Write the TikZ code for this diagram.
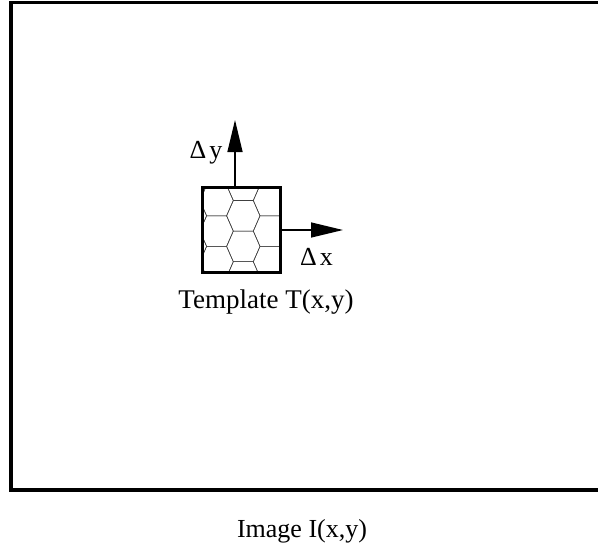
\documentclass[tikz,border=0pt]{standalone}
\usepackage{fontspec}
\setmainfont{Liberation Serif}
\usetikzlibrary{arrows.meta}

\tikzset{
  frame/.style={draw=black, line width=3.2pt},
  tplbox/.style={draw=black, line width=3pt},
  hexline/.style={draw=black!75, line width=0.55pt},
  shiftarrow/.style={draw=black, line width=1.4pt, -{Triangle[length=32pt,width=15pt]}},
  lbl/.style={font=\fontsize{26}{30}\selectfont, inner sep=0pt, anchor=base}
}

\begin{document}
\begin{tikzpicture}[x=1pt, y=-1pt]
  \useasboundingbox (0,0) rectangle (598,550);
  \clip (0,0) rectangle (598,550);

  % the image frame (its right side runs past the edge)
  \draw[frame] (11,2.5) rectangle (620,490);

  % template patch filled with a hexagonal texture
  \coordinate (tl) at (202,187);
  \coordinate (br) at (280,272);
  \begin{scope}
    \clip (tl) rectangle (br);
    \foreach \col in {-3,...,3} {
      \pgfmathsetmacro{\cx}{243.3 + 26.7*\col}
      \pgfmathsetmacro{\off}{isodd(\col) ? -15.3 : 0}
      \foreach \row in {-2,...,3} {
        \pgfmathsetmacro{\cy}{215.8 + 30.6*\row + \off}
        \draw[hexline] (\cx-16.7,\cy) -- (\cx-10,\cy-15.3) -- (\cx+10,\cy-15.3)
          -- (\cx+16.7,\cy) -- (\cx+10,\cy+15.3) -- (\cx-10,\cy+15.3) -- cycle;
      }
    }
  \end{scope}
  \node[tplbox, inner sep=0pt, minimum width=78pt, minimum height=85pt] (tpl) at (241,229.5) {};

  % shift directions
  \coordinate (ytip) at (235,120);
  \coordinate (xtip) at (343,230);
  \draw[shiftarrow] (tpl.north -| ytip) -- (ytip);
  \draw[shiftarrow] (tpl.east |- xtip) -- (xtip);

  % labels
  \node[lbl] (dy) at (206,158) {Δ\hspace{3pt}y};
  \node[lbl] (dx) at (316.5,265) {Δ\hspace{3pt}x};
  \node[lbl, font=\fontsize{27}{31}\selectfont] (tname) at (266,308) {Template T(x,y)};
  \node[lbl] (iname) at (302,537) {Image I(x,y)};
\end{tikzpicture}
\end{document}
